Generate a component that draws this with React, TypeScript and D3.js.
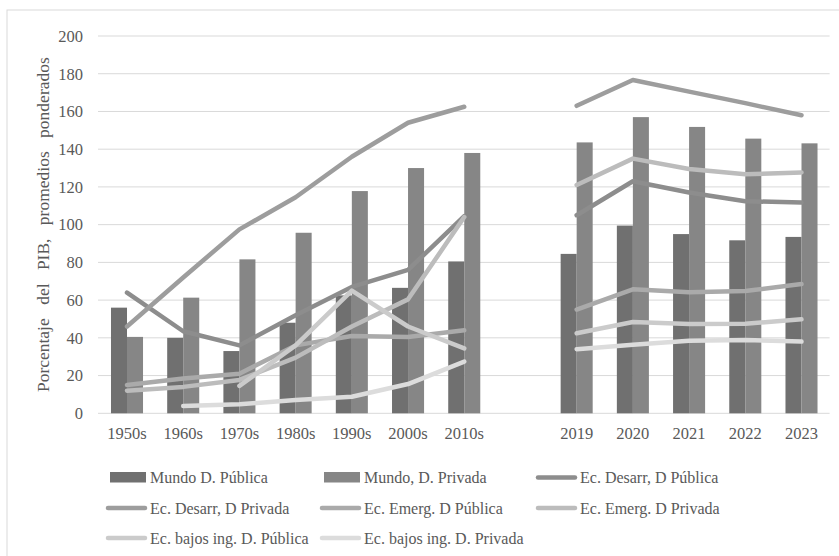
import React from "react";
import * as d3 from "d3";

const categories = ["1950s", "1960s", "1970s", "1980s", "1990s", "2000s", "2010s", "", "2019", "2020", "2021", "2022", "2023"];

const mundoPublica = [56, 40, 33, 48, 62.5, 66.5, 80.5, null, 84.5, 99.5, 95, 91.7, 93.5];
const mundoPrivada = [40.5, 61.3, 81.6, 95.7, 117.8, 130, 138, null, 143.6, 157, 151.8, 145.6, 143.1];

const desarrPublica = [64, 43.5, 36, 52, 67, 76, 104.5, null, 105, 123, 117, 112.4, 111.8];
const desarrPrivada = [46, 72, 97.5, 114.5, 136, 154, 162.5, null, 163, 176.7, 170.5, 164.4, 158];
const emergPublica = [15, 18.5, 21, 36, 41, 40.5, 44, null, 55, 65.7, 64.2, 64.8, 68.5];
const emergPrivada = [12, 14, 17.7, 29.5, 46, 60.4, 104, null, 121, 135, 129.5, 126.7, 127.7];
const bajosPublica = [null, null, 14.5, 36, 65, 46, 34.4, null, 42.4, 48.4, 47.3, 47.5, 49.8];
const bajosPrivada = [null, 3.9, 4.8, 7, 8.8, 15.5, 27.4, null, 34, 36.3, 38.5, 38.9, 38];

const yTicks = [0, 20, 40, 60, 80, 100, 120, 140, 160, 180, 200];

const barSeries = [
  { name: "Mundo D. Pública", values: mundoPublica, color: "#707070" },
  { name: "Mundo, D. Privada", values: mundoPrivada, color: "#868686" },
];

const lineSeries = [
  { name: "Ec. Desarr, D Pública", values: desarrPublica, color: "#8d8d8d" },
  { name: "Ec. Desarr, D Privada", values: desarrPrivada, color: "#9d9d9d" },
  { name: "Ec. Emerg. D Pública", values: emergPublica, color: "#aaaaaa" },
  { name: "Ec. Emerg. D Privada", values: emergPrivada, color: "#bcbcbc" },
  { name: "Ec. bajos ing. D. Pública", values: bajosPublica, color: "#cbcbcb" },
  { name: "Ec. bajos ing. D. Privada", values: bajosPrivada, color: "#dcdcdc" },
];

const W = 839;
const H = 556;
const FONT = "'Liberation Serif', 'Times New Roman', serif";
const TEXT = "#595959";

export default function App() {
  // unique keys so the empty gap slot has its own band
  const keys = categories.map((c, i) => c + "_" + i);

  const x = d3.scaleBand<string>().domain(keys).range([98.9, 829.6]).paddingInner(0.43).paddingOuter(0.215);
  const xSub = d3.scaleBand<number>().domain([0, 1]).range([0, x.bandwidth()]);
  const y = d3.scaleLinear().domain([0, 200]).range([413.3, 36]);

  const cx = (i: number) => (x(keys[i]) as number) + x.bandwidth() / 2;

  const line = d3
    .line<number | null>()
    .defined((d) => d != null)
    .x((_, i) => cx(i))
    .y((d) => y(d as number));

  // legend layout: 3 columns, 3 rows
  const legendItems = [
    ...barSeries.map((s) => ({ ...s, kind: "bar" })),
    ...lineSeries.map((s) => ({ ...s, kind: "line" })),
  ];
  const colX = [150, 364, 580];
  const rowY = [483, 513.5, 543.5];

  return (
    <svg width={W} height={H} style={{ position: "absolute", left: 0, top: 0, background: "#fff" }}>
      <rect x={7} y={10} width={900} height={600} fill="#fff" stroke="#d9d9d9" strokeWidth={1} />

      {/* grid */}
      {yTicks.map((t) => (
        <line key={t} x1={98} x2={829.6} y1={y(t)} y2={y(t)} stroke="#d9d9d9" strokeWidth={1} />
      ))}

      {/* y tick labels */}
      {yTicks.map((t) => (
        <text key={"yl" + t} x={83} y={y(t)} dy="0.35em" textAnchor="end" fontFamily={FONT} fontSize={16.5} fill={TEXT}>
          {t}
        </text>
      ))}

      <text
        transform={`translate(49,${(y(0) + y(200)) / 2}) rotate(-90)`}
        textAnchor="middle"
        fontFamily={FONT}
        fontSize={17.5}
        fill={TEXT}
        wordSpacing={9}
      >
        Porcentaje del PIB, promedios ponderados
      </text>

      {/* bars */}
      {barSeries.map((s, si) =>
        s.values.map((v, i) =>
          v == null ? null : (
            <rect
              key={s.name + i}
              x={(x(keys[i]) as number) + (xSub(si) as number)}
              y={y(v)}
              width={xSub.bandwidth()}
              height={y(0) - y(v)}
              fill={s.color}
            />
          )
        )
      )}

      {/* lines */}
      {lineSeries.map((s) => (
        <path
          key={s.name}
          d={line(s.values) || ""}
          fill="none"
          stroke={s.color}
          strokeWidth={4.5}
          strokeLinecap="round"
          strokeLinejoin="round"
        />
      ))}

      {/* x labels */}
      {categories.map((c, i) => (
        <text key={"xl" + i} x={cx(i)} y={439} textAnchor="middle" fontFamily={FONT} fontSize={16.5} fill={TEXT}>
          {c}
        </text>
      ))}

      {/* legend */}
      {legendItems.map((it, i) => {
        const lx = colX[i % 3];
        const ly = rowY[Math.floor(i / 3)];
        return (
          <g key={"lg" + i}>
            {it.kind === "bar" ? (
              <rect x={lx - 40} y={ly - 11} width={36} height={10.5} fill={it.color} />
            ) : (
              <line x1={lx - 42} x2={lx - 5} y1={ly - 5.5} y2={ly - 5.5} stroke={it.color} strokeWidth={4.5} strokeLinecap="round" />
            )}
            <text x={lx} y={ly} fontFamily={FONT} fontSize={16} fill={TEXT}>
              {it.name}
            </text>
          </g>
        );
      })}
    </svg>
  );
}
